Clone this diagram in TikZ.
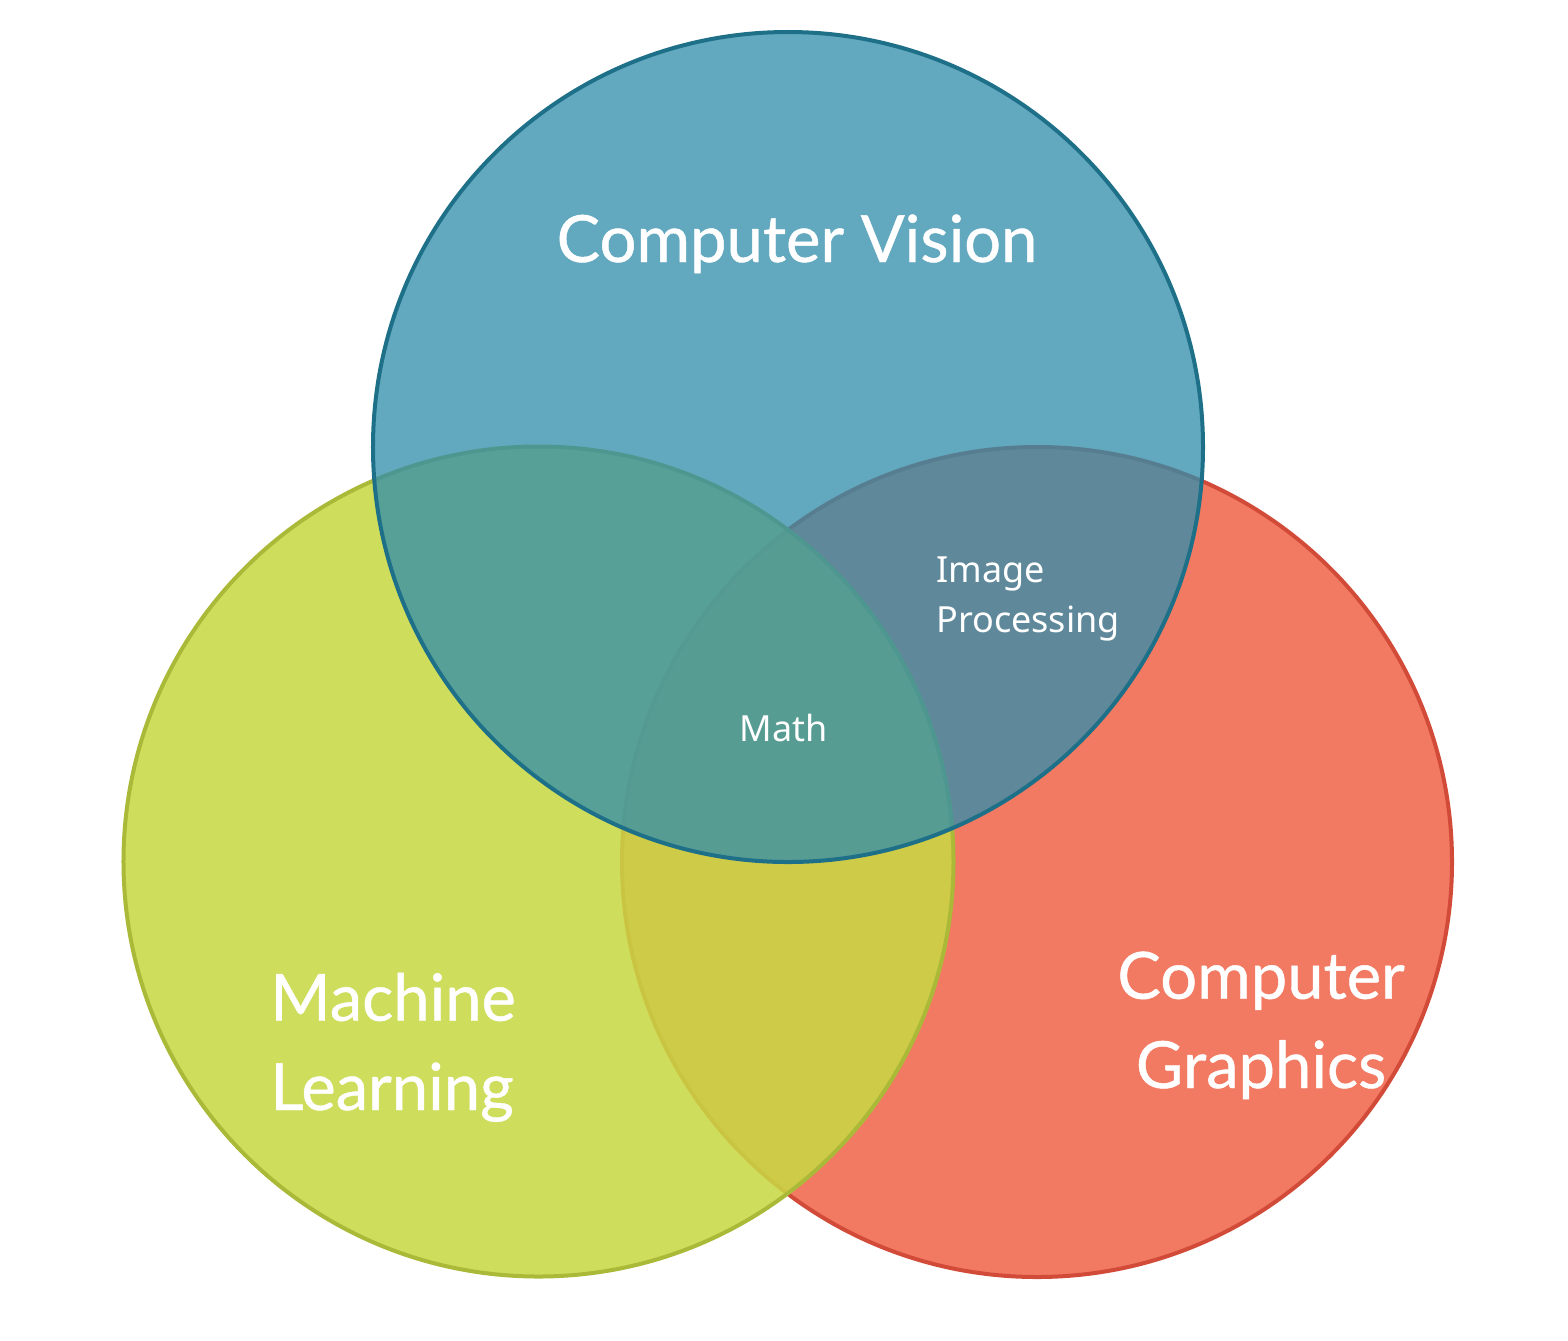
\documentclass[tikz,border=0pt]{standalone}
\usepackage{fontspec}
\newfontfamily\latofont{Lato}[FakeBold=0.7]
\newfontfamily\notofont{Noto Sans}
\definecolor{cvfill}{RGB}{51,142,171}
\definecolor{cvline}{RGB}{30,112,137}
\definecolor{mlfill}{RGB}{200,216,68}
\definecolor{mlline}{RGB}{170,185,55}
\definecolor{cgfill}{RGB}{242,122,98}
\definecolor{cgline}{RGB}{210,75,56}
\tikzset{
  setcircle/.style={circle, minimum size=207.5mm, inner sep=0pt, line width=1mm},
  biglabel/.style={text=white, font=\latofont\fontsize{46.3}{63.5}\selectfont, inner sep=0pt},
  smalllabel/.style={text=white, font=\notofont\fontsize{25.6}{34.9}\selectfont, inner sep=0pt, align=left},
}
\begin{document}
\begin{tikzpicture}[x=0.25mm,y=-0.25mm]
\useasboundingbox (0,0) rectangle (1568,1340);
\node[setcircle, draw=cgline, fill=cgfill] (cg) at (1037,862) {};
\node[setcircle, draw=mlline, fill=mlfill, fill opacity=0.87] (ml) at (538.5,861.5) {};
\node[setcircle, draw=cvline, fill=cvfill, fill opacity=0.77] (cv) at (788,447) {};
\node[biglabel, anchor=base] (cvt) at (797,262) {Computer Vision};
\node[biglabel, anchor=base west, align=left] (mlt) at (270,1110) {Machine\\Learning};
\node[biglabel, anchor=base, align=center] (cgt) at (1261,1088) {Computer\\Graphics};
\node[smalllabel, anchor=base west] (ipt) at (936,632) {Image\\Processing};
\node[smalllabel, anchor=base] (mt) at (784,741) {Math};
\end{tikzpicture}
\end{document}
